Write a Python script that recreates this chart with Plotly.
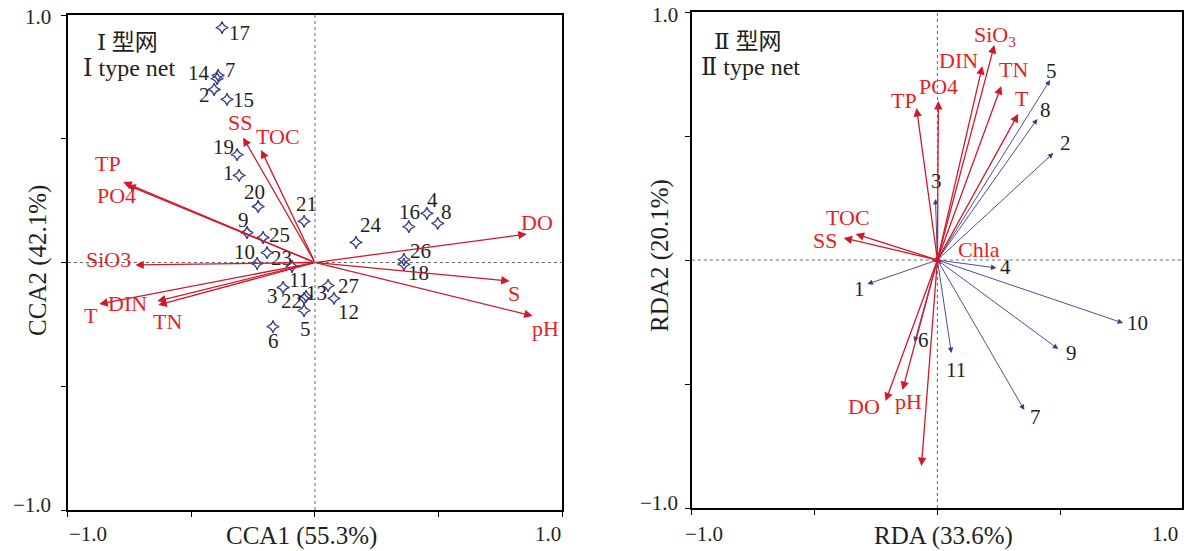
import plotly.graph_objects as go

W, H = 1184, 551

# ---------------- Data: left panel (CCA, type I net) ----------------
cca_sites = [str(i) for i in range(1, 28)]
cca_site_x = [-0.307, -0.408, -0.129, 0.453, -0.044, -0.170, -0.392, 0.497, -0.275, -0.234,
              -0.093, 0.077, -0.036, -0.396, -0.356, 0.380, -0.376, 0.360, -0.315, -0.230,
              -0.044, -0.044, -0.194, 0.166, -0.210, 0.360, 0.053]
cca_site_y = [0.352, 0.699, -0.101, 0.198, -0.194, -0.259, 0.756, 0.158, 0.121, -0.004,
              -0.016, -0.145, -0.137, 0.743, 0.659, 0.145, 0.949, -0.008, 0.436, 0.226,
              0.166, -0.145, 0.040, 0.081, 0.101, 0.012, -0.093]

cca_env = ["SS", "TOC", "TP", "PO4", "SiO3", "T", "DIN", "TN", "DO", "S", "pH"]
cca_env_x = [-0.291, -0.218, -0.776, -0.760, -0.727, -0.873, -0.638, -0.634, 0.857, 0.788, 0.881]
cca_env_y = [0.505, 0.455, 0.325, 0.313, -0.010, -0.168, -0.156, -0.172, 0.115, -0.075, -0.216]

# ---------------- Data: right panel (RDA, type II net) ----------------
rda_sites = [str(i) for i in range(1, 12)]
rda_site_x = [-0.285, 0.472, -0.008, 0.240, 0.459, -0.093, 0.354, 0.407, 0.492, 0.756, 0.057]
rda_site_y = [-0.097, 0.431, 0.246, -0.032, 0.726, -0.331, -0.605, 0.569, -0.359, -0.254, -0.375]

rda_env = ["SiO<sub>3</sub>", "DIN", "TN", "T", "PO4", "TP", "TOC", "SS", "Chla", "DO", "pH", ""]
rda_env_x = [0.232, 0.183, 0.260, 0.329, 0.004, -0.085, -0.333, -0.382, 0.016, -0.211, -0.142, -0.065]
rda_env_y = [0.867, 0.782, 0.702, 0.589, 0.641, 0.613, 0.105, 0.089, -0.016, -0.569, -0.524, -0.831]

axis_titles = ["CCA1 (55.3%)", "CCA2 (42.1%)", "RDA (33.6%)", "RDA2 (20.1%)"]
tick_text = ["\u22121.0", "1.0"]
panel_titles = ["\u2160 型网", "\u2160 type net", "\u2161 型网", "\u2161 type net"]

# ---------------- Label placement (pixel offsets, style only) ----------------
cca_site_off = [(-11, 2), (-10, -5), (-11, -8), (6, 13), (1, -18), (1, -14), (12, 5), (9, 11),
                (-4, 13), (-13, 11), (7, -14), (15, -14), (10, 3), (-18, 6), (16, -1), (1, 15),
                (17, -5), (15, -9), (-14, 8), (-4, 15), (2, 17), (-13, -3), (14, -5), (15, 17),
                (16, 3), (17, 9), (20, 0)]
cca_env_off = [(-3, 15), (17, 13), (-15, 19), (-11, -10), (-27, 5), (-8, -11), (-30, -2),
               (9, -16), (10, 12), (4, -12), (13, -13)]
rda_site_off = [(-8, -5), (12, 10), (1, 18), (9, 1), (1, 9), (9, 2), (11, -7), (8, 9),
                (13, -4), (14, 0), (5, -17)]
rda_env_off = [(1, 9), (-24, 6), (12, 16), (4, 15), (0, 15), (-13, 7), (-8, 16), (-19, -3),
               (38, 14), (-22, -5), (6, -12), (0, 0)]

RED_TXT = "#e41f26"
RED_ARR = "#d2192b"
NAVY = "#353d85"
BLACK = "#231f20"
SERIF = "Liberation Serif, Times New Roman, Noto Sans CJK SC, serif"
CJK = "Liberation Serif, DejaVu Serif, Noto Sans CJK SC, serif"


def px(x):
    return x / W


def py(y):
    return 1 - y / H


def paper_text(x, y, text, font, xanchor="center", **kw):
    return dict(x=px(x), y=py(y), xref="paper", yref="paper", text=text, showarrow=False,
                xanchor=xanchor, yanchor="middle", font=font, **kw)


fig = go.Figure()

# left site markers
fig.add_trace(go.Scatter(
    x=cca_site_x, y=cca_site_y, mode="markers", xaxis="x", yaxis="y",
    marker=dict(symbol="star-diamond-open", size=9, color=NAVY, line=dict(width=1.3, color=NAVY)),
    showlegend=False, hoverinfo="skip"))

# invisible trace for right axes
fig.add_trace(go.Scatter(x=rda_site_x, y=rda_site_y, mode="markers", xaxis="x2", yaxis="y2",
                         marker=dict(size=1, opacity=0), showlegend=False, hoverinfo="skip"))

ann = []
shapes = []

# zero dotted lines
for xr, yr, xmax in (("x", "y", 1.0), ("x2", "y2", 0.996)):
    shapes.append(dict(type="line", xref=xr, yref=yr, x0=0, x1=0, y0=-1, y1=1,
                       line=dict(color="#666", width=1, dash="dot"), layer="below"))
    shapes.append(dict(type="line", xref=xr, yref=yr, x0=-1, x1=xmax, y0=0, y1=0,
                       line=dict(color="#666", width=1, dash="dot"), layer="below"))

lab_font = dict(family=SERIF, size=21, color=BLACK)
env_font = dict(family=SERIF, size=22, color=RED_TXT)

# left site labels
for name, x, y, (dx, dy) in zip(cca_sites, cca_site_x, cca_site_y, cca_site_off):
    ann.append(dict(x=x, y=y, xref="x", yref="y", text=name, showarrow=False,
                    xanchor="center", yanchor="middle", xshift=dx, yshift=dy, font=lab_font))

# left env arrows + labels
for name, x, y, (dx, dy) in zip(cca_env, cca_env_x, cca_env_y, cca_env_off):
    ann.append(dict(x=x, y=y, xref="x", yref="y", ax=0, ay=0, axref="x", ayref="y",
                    text="", showarrow=True, arrowhead=2, arrowsize=1.3, arrowwidth=1.3,
                    arrowcolor=RED_ARR, standoff=0, startstandoff=0))
    ann.append(dict(x=x, y=y, xref="x", yref="y", text=name, showarrow=False,
                    xanchor="center", yanchor="middle", xshift=dx, yshift=dy, font=env_font))

# right site arrows + labels
for name, x, y, (dx, dy) in zip(rda_sites, rda_site_x, rda_site_y, rda_site_off):
    ann.append(dict(x=x, y=y, xref="x2", yref="y2", ax=0, ay=0, axref="x2", ayref="y2",
                    text="", showarrow=True, arrowhead=2, arrowsize=1.2, arrowwidth=0.9,
                    arrowcolor=NAVY, standoff=0, startstandoff=0))
    ann.append(dict(x=x, y=y, xref="x2", yref="y2", text=name, showarrow=False,
                    xanchor="center", yanchor="middle", xshift=dx, yshift=dy, font=lab_font))

# right env arrows + labels
for name, x, y, (dx, dy) in zip(rda_env, rda_env_x, rda_env_y, rda_env_off):
    ann.append(dict(x=x, y=y, xref="x2", yref="y2", ax=0, ay=0, axref="x2", ayref="y2",
                    text="", showarrow=True, arrowhead=2, arrowsize=1.3, arrowwidth=1.3,
                    arrowcolor=RED_ARR, standoff=0, startstandoff=0))
    if name:
        ann.append(dict(x=x, y=y, xref="x2", yref="y2", text=name, showarrow=False,
                        xanchor="center", yanchor="middle", xshift=dx, yshift=dy, font=env_font))

# panel headers
hf1 = dict(family=CJK, size=23, color=BLACK)
hf2 = dict(family=CJK, size=24, color=BLACK)
ann += [
    paper_text(95, 43, panel_titles[0], hf1, xanchor="left"),
    paper_text(81, 68, panel_titles[1], hf2, xanchor="left"),
    paper_text(713, 42, panel_titles[2], hf1, xanchor="left"),
    paper_text(700, 67, panel_titles[3], hf2, xanchor="left"),
]

# axis titles
tf = dict(family=SERIF, size=25, color=BLACK)
ann += [
    paper_text(302, 536, axis_titles[0], tf),
    paper_text(38, 260, axis_titles[1], tf, textangle=-90),
    paper_text(945, 536, axis_titles[2], tf),
    paper_text(661, 255, axis_titles[3], tf, textangle=-90),
]

# tick labels
kf = dict(family=SERIF, size=21, color=BLACK)
ann += [
    paper_text(53, 17, tick_text[1], kf, xanchor="right"),
    paper_text(53, 505, tick_text[0], kf, xanchor="right"),
    paper_text(67, 534, tick_text[0], kf, xanchor="left"),
    paper_text(564, 534, tick_text[1], kf, xanchor="right"),
    paper_text(681, 15, tick_text[1], kf, xanchor="right"),
    paper_text(681, 503, tick_text[0], kf, xanchor="right"),
    paper_text(684, 534, tick_text[0], kf, xanchor="left"),
    paper_text(1182, 534, tick_text[1], kf, xanchor="right"),
]

ax_common = dict(showgrid=False, zeroline=False, showline=True, linecolor="black", linewidth=1.6,
                 mirror=True, ticks="outside", ticklen=5, tickwidth=1.3, tickcolor="black",
                 tickvals=[-1, -0.5, 0, 0.5, 1], showticklabels=False, fixedrange=True)

fig.update_layout(
    width=W, height=H, margin=dict(l=0, r=0, t=0, b=0),
    paper_bgcolor="white", plot_bgcolor="white",
    xaxis=dict(domain=[px(68), px(563)], range=[-1, 1], anchor="y", **ax_common),
    yaxis=dict(domain=[py(510), py(15)], range=[-1, 1], anchor="x", **ax_common),
    xaxis2=dict(domain=[px(693), 1.0], range=[-1, 0.996], anchor="y2", **ax_common),
    yaxis2=dict(domain=[py(508), py(12)], range=[-1, 1], anchor="x2", **ax_common),
    annotations=ann, shapes=shapes, showlegend=False,
)

fig.write_html("out.html")
